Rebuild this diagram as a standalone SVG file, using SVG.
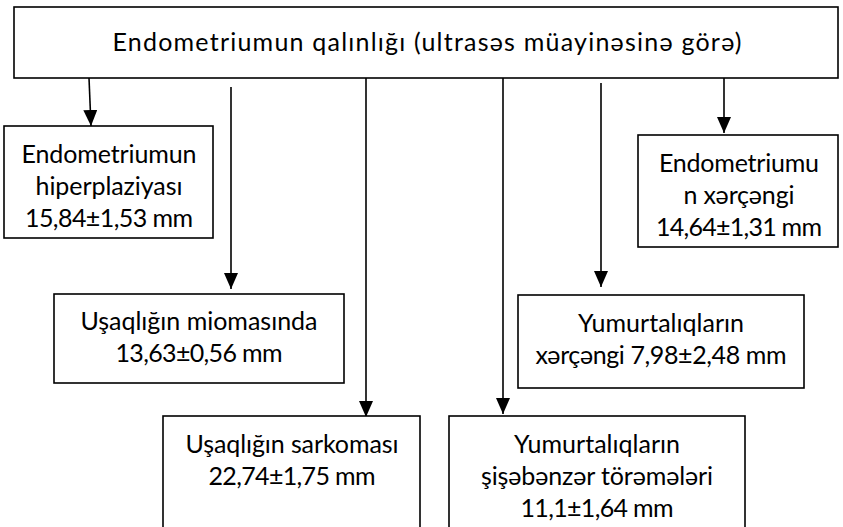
<svg xmlns="http://www.w3.org/2000/svg" width="843" height="527" viewBox="0 0 843 527">
<style>
.box{fill:#fff;stroke:#000;stroke-width:1.6}
.t{font-family:Lato,"Open Sans","Liberation Sans",sans-serif;font-size:25px;fill:#000;text-anchor:middle}
.c{stroke:#000;stroke-width:1.6;fill:none;marker-end:url(#ah)}
</style>
<defs>
<marker id="ah" markerUnits="userSpaceOnUse" markerWidth="16" markerHeight="14" viewBox="0 0 16 14" refX="16" refY="7" orient="auto">
<path d="M0,0 L16,7 L0,14 Z" fill="#000"/>
</marker>
</defs>
<rect width="843" height="527" fill="#fff"/>
<g id="connectors">
<line class="c" x1="89" y1="78" x2="91" y2="126"/>
<line class="c" x1="231" y1="87" x2="231" y2="289"/>
<line class="c" x1="366" y1="78" x2="366" y2="417"/>
<line class="c" x1="503" y1="78" x2="503" y2="414"/>
<line class="c" x1="601" y1="83" x2="601" y2="287"/>
<line class="c" x1="724" y1="75" x2="724" y2="133"/>
</g>
<g id="root">
<rect class="box" x="14" y="7" width="824" height="71"/>
<text class="t" x="427" y="51" textLength="629">Endometriumun qalınlığı (ultrasəs müayinəsinə görə)</text>
</g>
<g id="hiperplaziya">
<rect class="box" x="4" y="126" width="209" height="112"/>
<text class="t" x="109" y="163" textLength="175">Endometriumun</text>
<text class="t" x="109" y="195" textLength="147">hiperplaziyası</text>
<text class="t" x="109" y="227" textLength="168">15,84±1,53 mm</text>
</g>
<g id="mioma">
<rect class="box" x="54" y="294" width="290" height="89"/>
<text class="t" x="199" y="330" textLength="237">Uşaqlığın miomasında</text>
<text class="t" x="199" y="362" textLength="167">13,63±0,56 mm</text>
</g>
<g id="sarkoma">
<rect class="box" x="163" y="416" width="257" height="130"/>
<text class="t" x="292" y="453" textLength="213">Uşaqlığın sarkoması</text>
<text class="t" x="292" y="485" textLength="167">22,74±1,75 mm</text>
</g>
<g id="sisebenzer">
<rect class="box" x="449" y="416" width="296" height="130"/>
<text class="t" x="597" y="453" textLength="166">Yumurtalıqların</text>
<text class="t" x="597" y="485" textLength="232">şişəbənzər törəmələri</text>
<text class="t" x="597" y="517" textLength="153">11,1±1,64 mm</text>
</g>
<g id="yumurtaliq-xerceng">
<rect class="box" x="518" y="295" width="286" height="93"/>
<text class="t" x="661" y="332" textLength="166">Yumurtalıqların</text>
<text class="t" x="661" y="364" textLength="251">xərçəngi 7,98±2,48 mm</text>
</g>
<g id="endometrium-xerceng">
<rect class="box" x="638" y="135" width="200" height="112"/>
<text class="t" x="739" y="172" textLength="160">Endometriumu</text>
<text class="t" x="739" y="204" textLength="111">n xərçəngi</text>
<text class="t" x="739" y="236" textLength="166">14,64±1,31 mm</text>
</g>
</svg>
